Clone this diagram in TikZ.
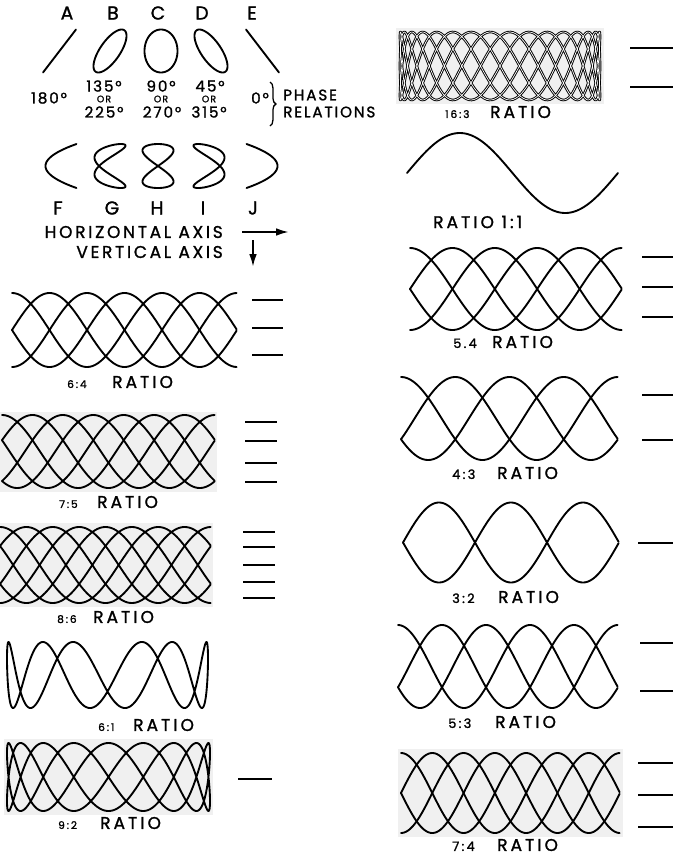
\documentclass[tikz,border=0pt]{standalone}
\usepackage{fontspec}
\setmainfont{Poppins}[FakeBold=1.3]
\newfontfamily\ratiofont{Poppins}[LetterSpace=18, FakeBold=1.5]
\newfontfamily\phasefont{Poppins}[LetterSpace=12, FakeBold=1.3]
\newfontfamily\axisfont{Poppins}[LetterSpace=16, FakeBold=1.3]
\usetikzlibrary{arrows.meta, decorations.pathreplacing}

\newdimen\pxu
\pxu=0.03cm
\newcommand\smallnum{\fontsize{9}{9}\selectfont}
\newcommand\midnum{\fontsize{11}{11}\selectfont}

% figure drawn as m strands over a straight sweep
\newcommand\strands[7]{% left x, right x, mid y, amplitude, strands, phase span, start phase
  \foreach \j in {1,...,#5}
    \draw[trace] plot[domain=0:1, samples=150]
      ({#1+(#2-#1)*\x}, {#3-#4*sin(#6*\x+#7+360*(\j-1)/#5)});
}
% true Lissajous figure: [extra], cx, cy, a, b, horizontal freq, vertical freq, phase
\newcommand\lissa[8][]{%
  \draw[trace, #1] plot[domain=0:360, samples=721]
    ({#2-#4*cos(#6*\x)}, {#3-#5*sin(#7*\x+#8)}) -- cycle;
}
\newcommand\ratiolabel[6]{% name, x, y, number size, number, room for number
  \node[ratiotext, anchor=west] (#1) at (#2,#3) {\makebox[#6\pxu][l]{#4#5}RATIO};
}

\begin{document}
\begin{tikzpicture}[x=0.03cm, y=-0.03cm,
  trace/.style={line width=1.6pt, line cap=round, line join=round},
  ratiodash/.style={line width=2.2pt},
  photo/.style={fill=black!6},
  letter/.style={font=\fontsize{16}{16}\selectfont, inner sep=0pt},
  phase/.style={font=\phasefont\fontsize{13}{13}\selectfont, inner sep=0pt},
  orword/.style={font=\phasefont\fontsize{8}{8}\selectfont, inner sep=0pt},
  axistext/.style={font=\axisfont\fontsize{14.5}{14.5}\selectfont, inner sep=0pt, anchor=east},
  ratiotext/.style={font=\ratiofont\fontsize{14.5}{14.5}\selectfont, inner sep=0pt},
  axarrow/.style={line width=1.7pt, -{Latex[length=11pt, width=6.5pt]}}]
  \useasboundingbox (0,0) rectangle (673,859);

  %% PHASE RELATIONS
  \foreach \n/\xx in {A/67, B/113, C/158, D/202, E/252}
    \node[letter] (top\n) at (\xx,13) {\n};
  \foreach \cx/\th in {59.5/180, 110/135, 161/90, 211/45, 262.5/0}
    \draw[trace] plot[domain=0:360, samples=90]
      ({\cx+16.5*sin(\x)}, {51+21.5*sin(\x+\th)}) -- cycle;
  \node[phase] (degA) at (49,98) {180°};
  \node[phase] (degB) at (104,86) {135°};
  \node[orword] (orB) at (104,99) {OR};
  \node[phase] (degBb) at (104,112) {225°};
  \node[phase] (degC) at (161,86) {90°};
  \node[orword] (orC) at (161,99) {OR};
  \node[phase] (degCb) at (162,112) {270°};
  \node[phase] (degD) at (210,86) {45°};
  \node[orword] (orD) at (209,99) {OR};
  \node[phase] (degDb) at (209,112) {315°};
  \node[phase] (degE) at (260,98) {0°};
  \draw[line width=1.1pt, decorate, decoration={brace, amplitude=5pt}] (270,82) -- (270,126);
  \node[phase, anchor=west] (phword) at (283,95) {PHASE};
  \node[phase, anchor=west] (relword) at (283,112) {RELATIONS};

  %% 2:1 figures
  \foreach \cx/\th in {61/-90, 110/-45, 158/0, 209/45, 262/90}
    \draw[trace] plot[domain=0:360, samples=120]
      ({\cx+15.5*sin(2*\x+\th)}, {166+22*sin(\x)}) -- cycle;
  \foreach \n/\xx in {F/58, G/112, H/157, I/203, J/253}
    \node[letter] (low\n) at (\xx,208) {\n};

  %% axes
  \node[axistext] (haxis) at (223,232) {HORIZONTAL AXIS};
  \node[axistext] (vaxis) at (223,252) {VERTICAL AXIS};
  \coordinate (hfrom) at (242,232);
  \coordinate (hto) at (289,232);
  \coordinate (vfrom) at (253,240);
  \coordinate (vto) at (253,267);
  \draw[axarrow] (hfrom) -- (hto);
  \draw[axarrow] (vfrom) -- (vto);

  %% photo backgrounds
  \fill[photo] (0,412) rectangle (217,492);
  \fill[photo] (0,523) rectangle (213,607);
  \fill[photo] (4,739) rectangle (213,815);
  \fill[photo] (396,28) rectangle (604,104);
  \fill[photo] (398,749) rectangle (623,837);

  %% LEFT COLUMN
  \strands{12}{237}{330}{37}{4}{540}{0}
  \foreach \yy in {300,328,355} \draw[ratiodash] (252,\yy) -- (283,\yy);
  \ratiolabel{r64}{67}{382}{\smallnum}{6:4}{45}

  \strands{2}{215}{451.5}{36.5}{5}{504}{90}
  \foreach \yy in {422,441,463,482} \draw[ratiodash] (245,\yy) -- (277,\yy);
  \ratiolabel{r75}{59}{502}{\smallnum}{7:5}{38}

  \strands{0}{211}{565}{38}{6}{480}{30}
  \foreach \yy in {532,547,565,582,598} \draw[ratiodash] (243,\yy) -- (275,\yy);
  \ratiolabel{r86}{57}{617}{\smallnum}{8:6}{36}

  \lissa{107.5}{675}{100.5}{33}{1}{6}{30}
  \ratiolabel{r61}{98}{725}{\smallnum}{6:1}{35}

  \lissa{108.5}{777}{101.5}{34}{2}{9}{45}
  \draw[ratiodash] (238,779) -- (272,779);
  \ratiolabel{r92}{58}{823}{\smallnum}{9:2}{42}

  %% RIGHT COLUMN
  \lissa[double, line width=0.8pt, double distance=0.6pt]{500}{66}{100}{34}{3}{16}{0}
  \foreach \yy in {48,87} \draw[ratiodash] (630,\yy) -- (673,\yy);
  \ratiolabel{r163}{445}{112}{\smallnum}{16:3}{45}

  \draw[trace] plot[domain=0:360, samples=120] ({407+0.58611*\x}, {173-40*sin(\x)});
  \node[ratiotext, anchor=west] (r11) at (433,222) {RATIO 1:1};

  \strands{410}{622}{289}{41}{4}{450}{0}
  \foreach \yy in {257,287,317} \draw[ratiodash] (642,\yy) -- (673,\yy);
  \ratiolabel{r54}{453}{342}{\midnum}{5.4}{39}

  \strands{401}{618}{418.5}{41.5}{3}{480}{90}
  \foreach \yy in {395,440} \draw[ratiodash] (642,\yy) -- (673,\yy);
  \ratiolabel{r43}{452}{473}{\midnum}{4:3}{45}

  \strands{403}{619}{542.5}{40}{2}{540}{0}
  \draw[ratiodash] (638,543) -- (673,543);
  \ratiolabel{r32}{452}{597}{\midnum}{3:2}{46}

  \strands{398}{618}{666.5}{41.5}{3}{600}{90}
  \foreach \yy in {643,691} \draw[ratiodash] (640,\yy) -- (673,\yy);
  \ratiolabel{r53}{448}{722}{\midnum}{5:3}{47}

  \strands{401}{620}{793}{40}{4}{630}{0}
  \foreach \yy in {763,795,827} \draw[ratiodash] (638,\yy) -- (673,\yy);
  \ratiolabel{r74}{452}{845}{\midnum}{7:4}{45}
\end{tikzpicture}
\end{document}
